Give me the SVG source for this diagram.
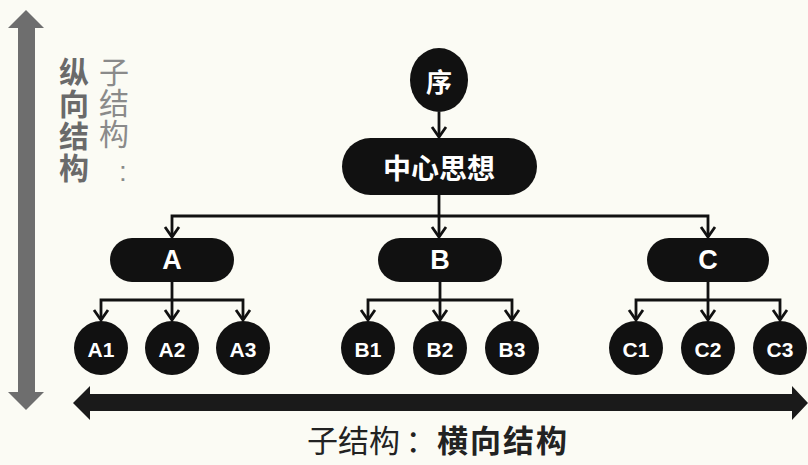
<svg xmlns="http://www.w3.org/2000/svg" width="808" height="465" viewBox="0 0 808 465">
  <defs>
    <marker id="chev" markerUnits="userSpaceOnUse" viewBox="-12 -12 24 24" markerWidth="24" markerHeight="24" refX="0" refY="0" orient="auto">
      <path d="M-10,-7 L0,0 L-10,7" fill="none" stroke="#111" stroke-width="2.8" stroke-linejoin="miter"/>
    </marker>
  </defs>
  <style>
    .conn { fill: none; stroke: #111; stroke-width: 2.8; marker-end: url(#chev); }
    .node { fill: #111; }
    .lbl { fill: #fff; font-family: "Liberation Sans", Arial, sans-serif; font-weight: bold; text-anchor: middle; dominant-baseline: central; }
    .cjk { font-family: "Noto Sans CJK SC", "Noto Sans", sans-serif; }
    .big { font-size: 27px; }
    .small { font-size: 21px; }
    .vert { writing-mode: vertical-rl; font-size: 30px; }
    .vbold { font-weight: bold; fill: #6a6a6a; letter-spacing: 2px; }
    .vlight { font-weight: normal; fill: #8a8a8a; letter-spacing: 1px; }
    .bottom { font-size: 31px; fill: #222; }
  </style>
  <rect x="0" y="0" width="808" height="465" fill="#fbfbf4"/>

  <!-- vertical axis arrow -->
  <g id="vertical-axis">
    <polygon points="26,10 44,28 35,28 35,392 44,392 26,410 8,392 18,392 18,28 8,28" fill="#6e6e6e"/>
    <text class="cjk vert vbold" x="74" y="57">纵向结构</text>
    <text class="cjk vert vlight" x="114" y="57">子结构</text>
    <text font-family="Liberation Sans, sans-serif" font-size="28" fill="#8a8a8a" text-anchor="middle" x="123" y="181">:</text>
  </g>

  <!-- horizontal axis arrow -->
  <g id="horizontal-axis">
    <polygon points="73,403 90,386 90,394 792,394 792,386 808,403 792,420 792,411 90,411 90,420" fill="#1a1a1a"/>
    <text class="cjk bottom" x="307" y="452">子结构</text>
    <text class="cjk bottom" x="421" y="452" text-anchor="middle">：</text>
    <text class="cjk bottom" x="437" y="452" font-weight="bold" letter-spacing="2">横向结构</text>
  </g>

  <!-- connectors -->
  <g id="connectors">
    <path class="conn" d="M439,112 V137"/>
    <path class="conn" d="M439,195 V237"/>
    <path class="conn" d="M439,216 H172 V237"/>
    <path class="conn" d="M439,216 H708 V237"/>
    <path class="conn" d="M172,282 V320"/>
    <path class="conn" d="M172,300 H101 V320"/>
    <path class="conn" d="M172,300 H243 V320"/>
    <path class="conn" d="M440,282 V320"/>
    <path class="conn" d="M440,300 H368 V320"/>
    <path class="conn" d="M440,300 H512 V320"/>
    <path class="conn" d="M708,282 V320"/>
    <path class="conn" d="M708,300 H636 V320"/>
    <path class="conn" d="M708,300 H780 V320"/>
  </g>

  <g id="node-xu">
    <ellipse class="node" cx="439" cy="80" rx="29" ry="32"/>
    <text class="lbl cjk" x="439" y="80" font-size="26">序</text>
  </g>
  <g id="node-center">
    <rect class="node" x="342" y="138" width="195" height="57" rx="28.5"/>
    <text class="lbl cjk" x="439" y="167" font-size="28">中心思想</text>
  </g>

  <g id="node-A">
    <rect class="node" x="110" y="238" width="124" height="44" rx="22"/>
    <text class="lbl big" x="172" y="260">A</text>
  </g>
  <g id="node-B">
    <rect class="node" x="378" y="238" width="124" height="44" rx="22"/>
    <text class="lbl big" x="440" y="260">B</text>
  </g>
  <g id="node-C">
    <rect class="node" x="647" y="238" width="122" height="44" rx="22"/>
    <text class="lbl big" x="708" y="260">C</text>
  </g>

  <g id="node-A1"><circle class="node" cx="101" cy="348" r="27"/><text class="lbl small" x="101" y="349">A1</text></g>
  <g id="node-A2"><circle class="node" cx="172" cy="348" r="27"/><text class="lbl small" x="172" y="349">A2</text></g>
  <g id="node-A3"><circle class="node" cx="243" cy="348" r="27"/><text class="lbl small" x="243" y="349">A3</text></g>
  <g id="node-B1"><circle class="node" cx="368" cy="348" r="27"/><text class="lbl small" x="368" y="349">B1</text></g>
  <g id="node-B2"><circle class="node" cx="440" cy="348" r="27"/><text class="lbl small" x="440" y="349">B2</text></g>
  <g id="node-B3"><circle class="node" cx="512" cy="348" r="27"/><text class="lbl small" x="512" y="349">B3</text></g>
  <g id="node-C1"><circle class="node" cx="636" cy="348" r="27"/><text class="lbl small" x="636" y="349">C1</text></g>
  <g id="node-C2"><circle class="node" cx="708" cy="348" r="27"/><text class="lbl small" x="708" y="349">C2</text></g>
  <g id="node-C3"><circle class="node" cx="780" cy="348" r="27"/><text class="lbl small" x="780" y="349">C3</text></g>
</svg>
